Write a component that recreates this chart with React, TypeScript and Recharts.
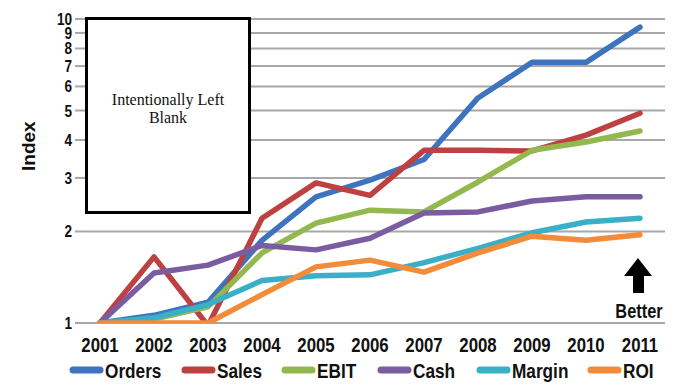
import React from 'react';
import { LineChart, Line, XAxis, YAxis, CartesianGrid, Legend } from 'recharts';

const years = ['2001', '2002', '2003', '2004', '2005', '2006', '2007', '2008', '2009', '2010', '2011'];
const orders = [1, 1.06, 1.17, 1.87, 2.6, 2.95, 3.45, 5.5, 7.2, 7.2, 9.4];
const sales = [1, 1.65, 0.98, 2.21, 2.89, 2.63, 3.7, 3.7, 3.68, 4.15, 4.9];
const ebit = [1, 1.03, 1.13, 1.7, 2.13, 2.35, 2.32, 2.91, 3.7, 3.94, 4.28];
const cash = [1, 1.46, 1.55, 1.8, 1.74, 1.9, 2.3, 2.32, 2.52, 2.6, 2.6];
const margin = [1, 1.04, 1.15, 1.38, 1.43, 1.44, 1.58, 1.76, 1.98, 2.15, 2.21];
const roi = [1, 1.0, 1.0, 1.24, 1.53, 1.61, 1.47, 1.7, 1.93, 1.87, 1.95];
const yTicks = [1, 2, 3, 4, 5, 6, 7, 8, 9, 10];

const series = [
  { key: 'orders', name: 'Orders', color: '#3E73C0' },
  { key: 'sales', name: 'Sales', color: '#BF4040' },
  { key: 'ebit', name: 'EBIT', color: '#93B84E' },
  { key: 'cash', name: 'Cash', color: '#7A5CA0' },
  { key: 'margin', name: 'Margin', color: '#3AAFC8' },
  { key: 'roi', name: 'ROI', color: '#F28B3A' },
];

// legend item left edges
const legendX = [70, 182, 282, 378, 477, 588];

const data = years.map((year, i) => ({
  year,
  orders: orders[i],
  sales: sales[i],
  ebit: ebit[i],
  cash: cash[i],
  margin: margin[i],
  roi: roi[i],
}));

const SANS = "'Liberation Sans', Arial, sans-serif";
const SQUEEZE = 0.8; // fake Arial Narrow

const XTick = ({ x, y, payload }: any) => (
  <g transform={`translate(${x},${y})`}>
    <text transform={`scale(${SQUEEZE},1)`} y={21} textAnchor="middle" fontFamily={SANS} fontWeight="bold" fontSize={21} fill="#111">
      {payload.value}
    </text>
  </g>
);

const YTick = ({ x, y, payload }: any) => (
  <g transform={`translate(${x},${y})`}>
    <text transform={`scale(${SQUEEZE},1)`} y={6} textAnchor="end" fontFamily={SANS} fontWeight="bold" fontSize={17} fill="#111">
      {payload.value}
    </text>
  </g>
);

const LegendContent = () => (
  <svg width={678} height={31} style={{ display: 'block' }}>
    {series.map((s, i) => (
      <g key={s.key} transform={`translate(${legendX[i]},0)`}>
        <line x1={3} x2={30} y1={17} y2={17} stroke={s.color} strokeWidth={7} strokeLinecap="round" />
        <text transform={`translate(35,25) scale(0.82,1)`} fontFamily={SANS} fontWeight="bold" fontSize={21} fill="#111">
          {s.name}
        </text>
      </g>
    ))}
  </svg>
);

const App: React.FC = () => {
  return (
    <div style={{ position: 'fixed', left: 0, top: 0, width: 678, height: 384, background: '#fff' }}>
      <LineChart
        width={678}
        height={384}
        data={data}
        margin={{ top: 19, right: 13, left: 0, bottom: 0 }}
      >
        <CartesianGrid vertical={false} stroke="#a8a8a8" strokeWidth={2} />
        <XAxis
          dataKey="year"
          axisLine={false}
          tickLine={false}
          height={30}
          padding={{ left: 15, right: 25 }}
          interval={0}
          tick={<XTick />}
        />
        <YAxis
          scale="log"
          domain={[1, 10]}
          ticks={yTicks}
          interval={0}
          allowDataOverflow
          width={85}
          axisLine={false}
          tickSize={10}
          tickMargin={3}
          tickLine={{ stroke: '#a8a8a8', strokeWidth: 2 }}
          tick={<YTick />}
          label={{
            value: 'Index',
            angle: -90,
            position: 'insideLeft',
            offset: 28,
            style: { fontFamily: SANS, fontWeight: 'bold', fontSize: 19, fill: '#111' },
          }}
        />
        <Legend verticalAlign="bottom" height={31} content={<LegendContent />} />
        {series.map((s) => (
          <Line
            key={s.key}
            type="linear"
            dataKey={s.key}
            name={s.name}
            stroke={s.color}
            strokeWidth={5.5}
            strokeLinejoin="round"
            strokeLinecap="round"
            dot={false}
            isAnimationActive={false}
          />
        ))}
      </LineChart>
      <div
        style={{
          position: 'absolute',
          left: 85,
          top: 17,
          width: 160,
          height: 191,
          border: '3px solid #000',
          background: '#fff',
          fontFamily: "'Liberation Serif', 'Times New Roman', serif",
          fontSize: 16,
          lineHeight: '18px',
          textAlign: 'center',
          color: '#111',
        }}
      >
        <div style={{ marginTop: 71 }}>
          Intentionally Left
          <br />
          Blank
        </div>
      </div>
      <svg style={{ position: 'absolute', left: 610, top: 252, overflow: 'visible' }} width={60} height={70}>
        <polygon points="28,6 42,24 34,24 34,41 23,41 23,24 14,24" fill="#000" />
        <text
          transform="translate(29,66) scale(0.82,1)"
          textAnchor="middle"
          fontFamily={SANS}
          fontWeight="bold"
          fontSize={20}
          fill="#111"
        >
          Better
        </text>
      </svg>
    </div>
  );
};

export default App;
